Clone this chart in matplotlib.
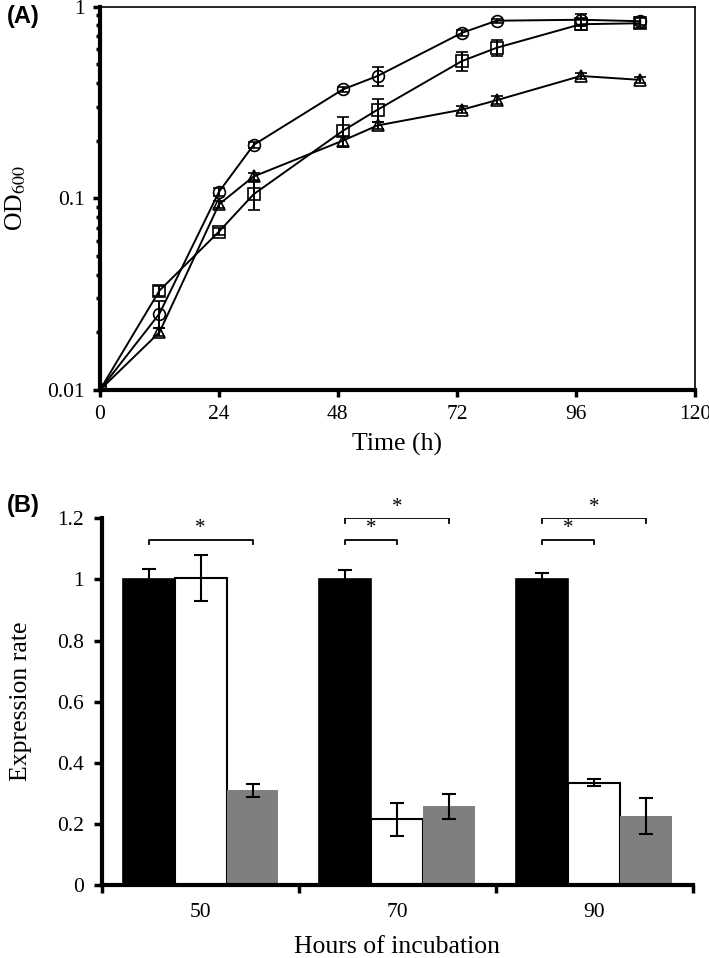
import numpy as np
import matplotlib
matplotlib.use("Agg")
from matplotlib import pyplot as plt
from matplotlib.ticker import FixedLocator, NullFormatter

# panel A: growth curves
time_h = [0, 12, 24, 31, 49, 56, 73, 80, 97, 109]
od_circle = [0.01, 0.025, 0.108, 0.19, 0.37, 0.435, 0.73, 0.845, 0.855, 0.84]
err_circle = [0.0005, 0.004, 0.005, 0.006, 0.01, 0.05, 0.03, 0.02, 0.06, 0.04]
od_square = [0.01, 0.033, 0.067, 0.105, 0.225, 0.29, 0.52, 0.61, 0.81, 0.82]
err_square = [0.0005, 0.002, 0.003, 0.018, 0.04, 0.04, 0.06, 0.06, 0.05, 0.05]
od_triangle = [0.01, 0.02, 0.093, 0.13, 0.2, 0.24, 0.29, 0.325, 0.435, 0.415]
err_triangle = [0.0005, 0.001, 0.004, 0.005, 0.012, 0.01, 0.012, 0.015, 0.015, 0.015]

# panel B: expression
hours = ["50", "70", "90"]
expr_black = [1.0, 1.0, 1.0]
expr_black_err = [0.035, 0.03, 0.022]
expr_white = [1.005, 0.215, 0.335]
expr_white_err = [0.075, 0.055, 0.012]
expr_grey = [0.31, 0.258, 0.226]
expr_grey_err = [0.022, 0.04, 0.058]

plt.rcParams["font.family"] = ["Liberation Serif", "DejaVu Serif"]
plt.rcParams["mathtext.fontset"] = "stix"

fig = plt.figure(figsize=(7.09, 9.58), dpi=100)

# ---------- (A) ----------
ax = fig.add_axes([0.141, 0.593, 0.839, 0.400])
for vals, errs, mk in [(od_circle, err_circle, "o"),
                       (od_square, err_square, "s"),
                       (od_triangle, err_triangle, "^")]:
    ax.errorbar(time_h, vals, yerr=errs, color="black", lw=1.4,
                marker=mk, markersize=8.5, markerfacecolor="none",
                markeredgecolor="black", markeredgewidth=1.2,
                elinewidth=1.4, capsize=4, capthick=1.4)
ax.set_yscale("log")
ax.set_ylim(0.01, 1)
ax.set_xlim(0, 120)
ax.set_xticks([0, 24, 48, 72, 96, 120])
ax.set_yticks([0.01, 0.1, 1])
ax.set_yticklabels(["0.01", "0.1", "1"])
minor = [m * d for d in (0.01, 0.1) for m in range(2, 10)]
ax.yaxis.set_minor_locator(FixedLocator(minor))
ax.yaxis.set_minor_formatter(NullFormatter())
ax.tick_params(axis="both", which="major", direction="out", length=5,
               width=2.5, labelsize=15.5, pad=6)
ax.tick_params(axis="y", which="minor", direction="out", length=3, width=2.5)
ax.tick_params(top=False, right=False)
ax.spines["left"].set_linewidth(3)
ax.spines["bottom"].set_linewidth(3)
ax.spines["top"].set_linewidth(1.2)
ax.spines["right"].set_linewidth(1.2)
ax.set_xlabel("Time (h)", fontsize=18.5, labelpad=6)
ax.set_ylabel("OD$_{600}$", fontsize=18.5, labelpad=14)
fig.text(0.010, 0.983, "(A)", fontsize=17, fontweight="bold",
         family="Liberation Sans", va="center")

# ---------- (B) ----------
bx = fig.add_axes([0.144, 0.076, 0.833, 0.383])
x = np.arange(len(hours))
w = 0.264
ekw = dict(elinewidth=1.5, capthick=1.5, capsize=5, ecolor="black")
bx.bar(x - w, expr_black, w, yerr=expr_black_err, color="black",
       edgecolor="black", lw=1.2, error_kw=ekw)
bx.bar(x, expr_white, w, yerr=expr_white_err, color="white",
       edgecolor="black", lw=1.5, error_kw=ekw)
bx.bar(x + w, expr_grey, w, yerr=expr_grey_err, color="#7f7f7f",
       edgecolor="#7f7f7f", lw=0, error_kw=ekw)
bx.set_xlim(-0.5, 2.5)
bx.set_ylim(0, 1.2)
bx.set_yticks(np.arange(0, 1.21, 0.2))
bx.set_yticklabels(["0", "0.2", "0.4", "0.6", "0.8", "1", "1.2"])
bx.set_xticks([-0.5, 0.5, 1.5, 2.5])
bx.set_xticklabels([])
bx.set_xticks(x, minor=True)
bx.set_xticklabels(hours, minor=True)
bx.tick_params(axis="both", which="major", direction="out", length=6,
               width=2.5, labelsize=15.5, pad=7)
bx.tick_params(axis="x", which="minor", length=0, labelsize=15.5, pad=13)
for s in ("top", "right"):
    bx.spines[s].set_visible(False)
bx.spines["left"].set_linewidth(3)
bx.spines["bottom"].set_linewidth(3)
bx.set_xlabel("Hours of incubation", fontsize=18.5, labelpad=10)
bx.set_ylabel("Expression rate", fontsize=18.5, labelpad=18)
fig.text(0.010, 0.472, "(B)", fontsize=17, fontweight="bold",
         family="Liberation Sans", va="center")


def bracket(x0, x1, y, tip=0.015):
    bx.plot([x0, x0, x1, x1], [y - tip, y, y, y - tip], color="black", lw=1.3)
    bx.text((x0 + x1) / 2, y + 0.005, "*", ha="center", va="bottom", fontsize=15)


bracket(x[0] - w, x[0] + w, 1.13)
for i in (1, 2):
    bracket(x[i] - w, x[i], 1.13)
    bracket(x[i] - w, x[i] + w, 1.2)

fig.savefig("out.png", dpi=100)
